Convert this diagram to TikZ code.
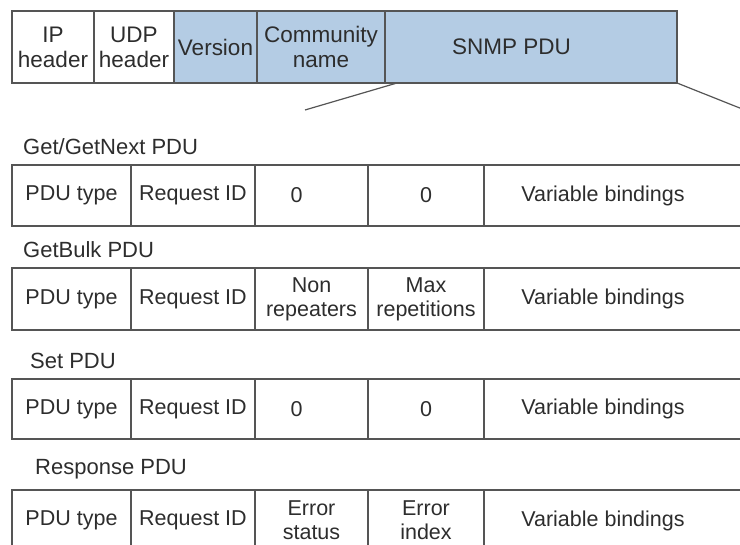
\documentclass[tikz,border=0pt]{standalone}
\usepackage{fontspec}
\setmainfont{Liberation Sans}
\definecolor{edge}{RGB}{85,85,85}
\definecolor{ink}{RGB}{45,45,45}
\definecolor{pdublue}{RGB}{180,204,228}

% One PDU layout row: #1 name prefix, #2 top edge, #3 height, #4/#5 third and fourth fields
\newcommand\pdurow[5]{%
  \node[cell, minimum width=119pt, minimum height=#3] (#1type) at (12,#2) {PDU type};
  \node[cell, minimum width=124pt, minimum height=#3] (#1req) at (131,#2) {Request ID};
  \node[cell, minimum width=113pt, minimum height=#3] (#1f3) at (255,#2) {#4};
  \node[cell, minimum width=116pt, minimum height=#3] (#1f4) at (368,#2) {#5};
  \node[cell, draw=none, minimum width=238pt, minimum height=#3] (#1var) at (484,#2) {Variable bindings};
  \draw[link] (#1f4.north east) -- ++(320,0);
  \draw[link] (#1f4.south east) -- ++(320,0);
}

\begin{document}
\begin{tikzpicture}[x=1pt,y=-1pt,
  cell/.style={draw=edge, line width=1.2pt, inner sep=0pt, outer sep=0pt,
    anchor=north west, align=center, text=ink,
    font=\fontsize{21.5}{24}\selectfont},
  hdr/.style={cell, font=\fontsize{22.5}{25}\selectfont},
  blue/.style={fill=pdublue},
  title/.style={anchor=west, inner sep=0pt, text=ink,
    font=\fontsize{22}{24}\selectfont},
  link/.style={draw=edge, line width=1.2pt}]
\useasboundingbox (0,0) rectangle (740,545);
\clip (0,0) rectangle (740,545);

% SNMP message
\node[hdr, minimum width=82pt, minimum height=72pt] (ip) at (12,11) {IP\\header};
\node[hdr, minimum width=80pt, minimum height=72pt] (udp) at (94,11) {UDP\\header};
\node[hdr, blue, minimum width=83pt, minimum height=72pt] (ver) at (174,11) {Version};
\node[hdr, blue, minimum width=128pt, minimum height=72pt] (comm) at (257,11) {Community\\name};
\node[hdr, blue, minimum width=292pt, minimum height=72pt] (snmp) at (385,11) {SNMP PDU\hspace*{39pt}};

% expansion lines from the SNMP PDU field
\coordinate (expL) at (305,110);
\coordinate (expR) at (800,132);
\draw[link] ([xshift=12pt]snmp.south west) -- (expL);
\draw[link] (snmp.south east) -- (expR);

% PDU formats
\node[title] (tGet) at (23,147) {Get/GetNext PDU};
\pdurow{get}{165}{61pt}{0\hspace*{30pt}}{0}

\node[title] (tBulk) at (23,250) {GetBulk PDU};
\pdurow{bulk}{268}{62pt}{Non\\repeaters}{Max\\repetitions}

\node[title] (tSet) at (30,361) {Set PDU};
\pdurow{set}{379}{60pt}{0\hspace*{30pt}}{0}

\node[title] (tResp) at (35,469) {Response PDU};
\pdurow{resp}{490}{61pt}{Error\\status}{Error\\index}
\end{tikzpicture}
\end{document}
